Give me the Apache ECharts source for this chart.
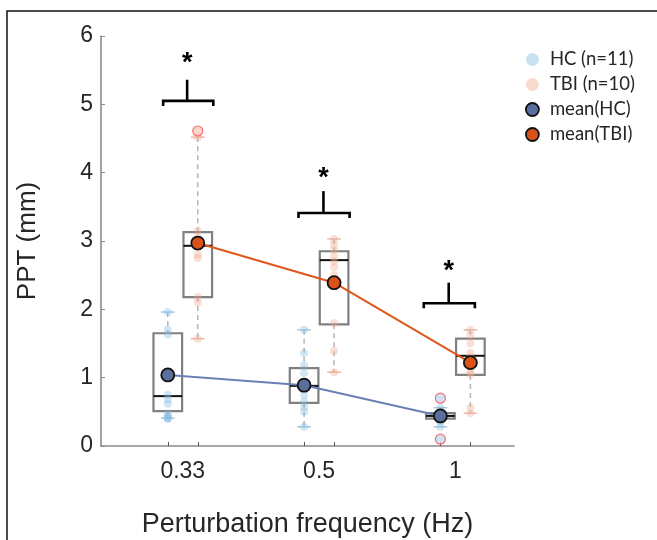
<!DOCTYPE html>
<html>
<head>
<meta charset="utf-8">
<script src="https://cdn.jsdelivr.net/npm/echarts@6/dist/echarts.min.js"></script>
<style>
  html, body { margin: 0; padding: 0; background: #fff; }
  #chart { width: 657px; height: 540px; }
</style>
</head>
<body>
<div id="chart"></div>
<script>
// frequencies, one group per frequency
const freqLabels = ['0.33', '0.5', '1'];
const groupPos = [1, 2, 3];
const offset = 0.11;

// individual subjects
const hcPoints = [
  [1.96, 1.70, 1.63, 0.75, 0.68, 0.62, 0.48, 0.44, 0.42, 0.40, 0.40],
  [1.70, 1.36, 1.18, 1.07, 0.90, 0.85, 0.75, 0.65, 0.57, 0.50, 0.28],
  [0.56, 0.50, 0.47, 0.45, 0.44, 0.42, 0.40, 0.35, 0.28]
];
const hcOutliers = [[], [], [0.70, 0.10]];
const tbiPoints = [
  [4.52, 3.15, 3.05, 2.95, 2.80, 2.75, 2.18, 2.10, 1.57],
  [3.03, 2.95, 2.87, 2.77, 2.70, 2.62, 2.50, 1.80, 1.39, 1.08],
  [1.70, 1.62, 1.50, 1.36, 1.30, 1.23, 1.08, 1.05, 0.56, 0.48]
];
const tbiOutliers = [[4.61], [], []];

// box stats: [low whisker, q1, median, q3, high whisker]
const hcBox = [
  [0.41, 0.51, 0.73, 1.65, 1.96],
  [0.28, 0.63, 0.88, 1.14, 1.70],
  [0.28, 0.40, 0.44, 0.48, 0.56]
];
const tbiBox = [
  [1.57, 2.18, 2.93, 3.13, 4.52],
  [1.08, 1.78, 2.72, 2.85, 3.03],
  [0.48, 1.04, 1.32, 1.57, 1.70]
];
const hcMean = [1.04, 0.89, 0.44];
const tbiMean = [2.97, 2.39, 1.22];

// significance: [x left, x right, x stem, y bar, y stem top, y star]
const sigBrackets = [
  [0.856, 1.224, 1.032, 5.05, 5.36, 5.70],
  [1.849, 2.224, 2.032, 3.41, 3.73, 4.02],
  [2.768, 3.143, 2.951, 2.09, 2.39, 2.66]
];

const hcX = groupPos.map(p => p - offset);
const tbiX = groupPos.map(p => p + offset);
const tickPos = [...hcX, ...tbiX].sort((a, b) => a - b);

const toPts = (xs, lists) => lists.flatMap((l, i) => l.map(v => [xs[i], v]));

const boxW = 0.21;
const capW = 0.1;

function boxRenderer(capColor) {
  return function (params, api) {
    const x = api.value(0);
    const p = k => api.coord([x, api.value(k)]);
    const low = p(1), q1 = p(2), med = p(3), q3 = p(4), high = p(5);
    const hw = api.size([boxW, 0])[0] / 2;
    const cw = api.size([capW, 0])[0] / 2;
    const cx = low[0];
    const dashed = { stroke: '#b5b5b5', lineWidth: 1.5, lineDash: [5, 4] };
    return {
      type: 'group',
      children: [
        { type: 'line', shape: { x1: cx, y1: high[1], x2: cx, y2: q3[1] }, style: dashed },
        { type: 'line', shape: { x1: cx, y1: q1[1], x2: cx, y2: low[1] }, style: dashed },
        { type: 'line', shape: { x1: cx - cw, y1: high[1], x2: cx + cw, y2: high[1] }, style: { stroke: capColor, lineWidth: 1.5 } },
        { type: 'line', shape: { x1: cx - cw, y1: low[1], x2: cx + cw, y2: low[1] }, style: { stroke: capColor, lineWidth: 1.5 } },
        { type: 'rect', shape: { x: cx - hw, y: q3[1], width: hw * 2, height: q1[1] - q3[1] },
          style: { fill: 'none', stroke: '#808080', lineWidth: 2.2 } },
        { type: 'line', shape: { x1: cx - hw, y1: med[1], x2: cx + hw, y2: med[1] },
          style: { stroke: '#111', lineWidth: 2 } }
      ]
    };
  };
}

function bracketRenderer(params, api) {
  const v = k => api.value(k);
  const a = api.coord([v(0), v(3)]);
  const b = api.coord([v(1), v(3)]);
  const s = api.coord([v(2), v(3)]);
  const t = api.coord([v(2), v(4)]);
  const star = api.coord([v(2), v(5)]);
  const st = { stroke: '#000', lineWidth: 2.6, fill: 'none' };
  return {
    type: 'group',
    children: [
      { type: 'polyline', shape: { points: [[a[0], a[1] + 5], [a[0], a[1]], [b[0], b[1]], [b[0], b[1] + 5]] }, style: st },
      { type: 'line', shape: { x1: s[0], y1: s[1], x2: t[0], y2: t[1] }, style: st },
      { type: 'text', x: star[0], y: star[1] + 7,
        style: { text: '*', fill: '#000', font: 'bold 27px "Liberation Sans", Arial', align: 'center', verticalAlign: 'middle' } }
    ]
  };
}

const chart = echarts.init(document.getElementById('chart'));

chart.setOption({
  animation: false,
  textStyle: { fontFamily: '"Liberation Sans", Arial, sans-serif' },
  graphic: [
    { type: 'rect', shape: { x: 7, y: 11, width: 720, height: 620 },
      style: { fill: 'none', stroke: '#111', lineWidth: 1.5 }, z: 0 }
  ],
  grid: { left: 101, right: 143, top: 36, bottom: 94, containLabel: false, outerBoundsMode: 'none' },
  legend: {
    orient: 'vertical',
    left: 520,
    top: 45,
    itemWidth: 13,
    itemHeight: 13,
    itemGap: 6,
    textStyle: { fontSize: 18.5, color: '#262626', fontFamily: 'Lato, sans-serif', padding: [0, 0, 0, 6] },
    data: [
      { name: 'HC (n=11)', icon: 'circle', itemStyle: { color: '#bcdbef', borderWidth: 0 } },
      { name: 'TBI (n=10)', icon: 'circle', itemStyle: { color: '#f6cfc1', borderWidth: 0 } },
      { name: 'mean(HC)', icon: 'circle', itemStyle: { color: '#5b6f9f', borderColor: '#111', borderWidth: 1.8 } },
      { name: 'mean(TBI)', icon: 'circle', itemStyle: { color: '#d95319', borderColor: '#111', borderWidth: 1.8 } }
    ]
  },
  xAxis: {
    type: 'value',
    min: 0.4,
    max: 3.43,
    name: 'Perturbation frequency (Hz)',
    nameLocation: 'middle',
    nameGap: 65,
    nameTextStyle: { fontSize: 27, color: '#262626' },
    splitLine: { show: false },
    axisLine: { lineStyle: { color: '#8c8c8c', width: 1.6 } },
    axisTick: { inside: true, length: 4, customValues: tickPos, lineStyle: { color: '#555' } },
    axisLabel: {
      customValues: groupPos,
      formatter: v => freqLabels[groupPos.indexOf(Math.round(v))],
      fontSize: 23, color: '#262626', margin: 14
    }
  },
  yAxis: {
    type: 'value',
    min: 0,
    max: 6,
    interval: 1,
    name: 'PPT (mm)',
    nameLocation: 'middle',
    nameGap: 60,
    nameTextStyle: { fontSize: 26, color: '#262626' },
    splitLine: { show: false },
    axisLine: { show: true, lineStyle: { color: '#8c8c8c', width: 1.6 } },
    axisTick: { show: true, inside: true, length: 4, lineStyle: { color: '#8c8c8c' } },
    axisLabel: { fontSize: 23, color: '#262626', margin: 8 }
  },
  series: [
    {
      name: 'boxHC', type: 'custom', z: 2, clip: false,
      renderItem: boxRenderer('#a9c7dc'),
      data: hcBox.map((b, i) => [hcX[i], ...b])
    },
    {
      name: 'boxTBI', type: 'custom', z: 2, clip: false,
      renderItem: boxRenderer('#e9b9aa'),
      data: tbiBox.map((b, i) => [tbiX[i], ...b])
    },
    {
      name: 'HC (n=11)', type: 'scatter', z: 3, symbolSize: 8,
      itemStyle: { color: 'rgba(130,185,225,0.45)' },
      data: toPts(hcX, hcPoints)
    },
    {
      name: 'TBI (n=10)', type: 'scatter', z: 3, symbolSize: 8,
      itemStyle: { color: 'rgba(240,165,140,0.45)' },
      data: toPts(tbiX, tbiPoints)
    },
    {
      name: 'HC (n=11)', type: 'scatter', z: 3, symbolSize: 10,
      itemStyle: { color: 'rgba(185,218,240,0.9)', borderColor: '#ff4d4d', borderWidth: 1.2 },
      data: toPts(hcX, hcOutliers)
    },
    {
      name: 'TBI (n=10)', type: 'scatter', z: 3, symbolSize: 10,
      itemStyle: { color: 'rgba(248,200,185,0.9)', borderColor: '#ff4d4d', borderWidth: 1.2 },
      data: toPts(tbiX, tbiOutliers)
    },
    {
      name: 'mean(HC)', type: 'line', z: 5, symbol: 'circle', symbolSize: 13,
      lineStyle: { color: '#6a80b3', width: 2 },
      itemStyle: { color: '#5b6f9f', borderColor: '#111', borderWidth: 1.8 },
      data: hcMean.map((m, i) => [hcX[i], m])
    },
    {
      name: 'mean(TBI)', type: 'line', z: 5, symbol: 'circle', symbolSize: 13,
      lineStyle: { color: '#e0561b', width: 2 },
      itemStyle: { color: '#d95319', borderColor: '#111', borderWidth: 1.8 },
      data: tbiMean.map((m, i) => [tbiX[i], m])
    },
    {
      name: 'sig', type: 'custom', z: 4, clip: false,
      renderItem: bracketRenderer,
      data: sigBrackets
    }
  ]
});
</script>
</body>
</html>
